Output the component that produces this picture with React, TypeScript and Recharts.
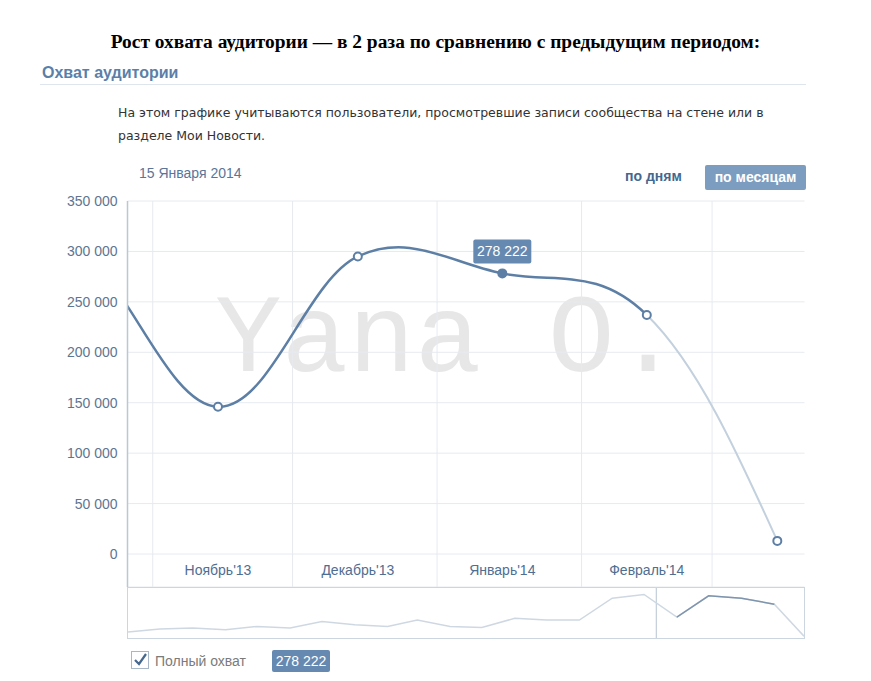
import React from "react";
import { LineChart, Line, XAxis, YAxis, CartesianGrid, ReferenceLine } from "recharts";

// monthly audience reach (one point per month, plotted on the 15th)
const months = [
  "2012-06", "2012-07", "2012-08", "2012-09", "2012-10", "2012-11", "2012-12",
  "2013-01", "2013-02", "2013-03", "2013-04", "2013-05", "2013-06", "2013-07",
  "2013-08", "2013-09", "2013-10", "2013-11", "2013-12", "2014-01", "2014-02",
  "2014-03",
];
const reach = [
  42000, 63000, 70000, 58000, 81000, 70000, 115000,
  92000, 81000, 126000, 81000, 74000, 138000, 126000,
  126000, 279000, 305000, 146000, 295000, 278222, 237000,
  13000,
];

const tickMonths = ["2013-11", "2013-12", "2014-01", "2014-02"];
const tickLabels = ["Ноябрь'13", "Декабрь'13", "Январь'14", "Февраль'14"];
const gridMonths = ["2013-11", "2013-12", "2014-01", "2014-02", "2014-03"];
const yTicks = [0, 50000, 100000, 150000, 200000, 250000, 300000, 350000];
const activeMonth = "2014-01";

// visible window of the main chart
const viewStart = Date.parse("2013-10-26T14:00:00Z");
const viewEnd = Date.parse("2014-03-20T20:00:00Z");

const BLUE = "#5d7fa5";
const LIGHT = "#c3d0de";
const GRID = "#e6eaef";
const AXIS = "#bac7d4";
const LABEL = "#4f6e92";
const BOX = "#6589b1";
const TENSION = 1.1;

const mid = (m: string) => Date.parse(`${m}-15T00:00:00Z`);
const start = (m: string) => Date.parse(`${m}-01T00:00:00Z`);
const fmt = (v: number) => String(v).replace(/\B(?=(\d{3})+(?!\d))/g, " ");

const allData = months.map((m, i) => ({
  month: m,
  t: mid(m),
  value: reach[i],
  selected: tickMonths.includes(m) ? reach[i] : null,
}));
const mainData = allData.slice(-7);

// cardinal spline; "head" strokes every segment but the last, "tail" only the last one
function spline(part: "head" | "tail") {
  return (context: any) => {
    let pts: number[][] = [];
    return {
      areaStart() {},
      areaEnd() {},
      lineStart() {
        pts = [];
      },
      point(x: number, y: number) {
        pts.push([+x, +y]);
      },
      lineEnd() {
        const n = pts.length;
        if (n < 2) return;
        const m = pts.map((p, i) =>
          i > 0 && i < n - 1
            ? [
                (TENSION * (pts[i + 1][0] - pts[i - 1][0])) / 2,
                (TENSION * (pts[i + 1][1] - pts[i - 1][1])) / 2,
              ]
            : [0, 0]
        );
        if (n === 2) {
          m[0] = [pts[1][0] - pts[0][0], pts[1][1] - pts[0][1]];
          m[1] = m[0];
        } else {
          m[0] = [
            (3 * (pts[1][0] - pts[0][0]) - m[1][0]) / 2,
            (3 * (pts[1][1] - pts[0][1]) - m[1][1]) / 2,
          ];
          m[n - 1] = [
            (3 * (pts[n - 1][0] - pts[n - 2][0]) - m[n - 2][0]) / 2,
            (3 * (pts[n - 1][1] - pts[n - 2][1]) - m[n - 2][1]) / 2,
          ];
        }
        const from = part === "head" ? 0 : n - 2;
        const to = part === "head" ? n - 2 : n - 1;
        context.moveTo(pts[from][0], pts[from][1]);
        for (let i = from; i < to; i++) {
          context.bezierCurveTo(
            pts[i][0] + m[i][0] / 3,
            pts[i][1] + m[i][1] / 3,
            pts[i + 1][0] - m[i + 1][0] / 3,
            pts[i + 1][1] - m[i + 1][1] / 3,
            pts[i + 1][0],
            pts[i + 1][1]
          );
        }
      },
    };
  };
}

const renderDot = (props: any) => {
  const { cx, cy, payload, index } = props;
  if (payload.t < viewStart) return <g key={`d${index}`} />;
  if (payload.month === activeMonth) {
    return (
      <g key={`d${index}`}>
        <circle cx={cx} cy={cy} r={5} fill={BLUE} />
        <rect x={cx - 29} y={cy - 34} width={58} height={24} rx={2} fill={BOX} />
        <text
          x={cx}
          y={cy - 17}
          textAnchor="middle"
          fill="#fff"
          fontSize={14}
          fontFamily="Liberation Sans"
        >
          {fmt(payload.value)}
        </text>
      </g>
    );
  }
  return <circle key={`d${index}`} cx={cx} cy={cy} r={4} fill="#fff" stroke={BLUE} strokeWidth={2} />;
};

const renderXTick = (props: any) => {
  const { x, y, payload } = props;
  const label = tickLabels[tickMonths.findIndex((m) => mid(m) === payload.value)];
  return (
    <text x={x} y={y - 12} textAnchor="middle" fill={LABEL} fontSize={14} fontFamily="Liberation Sans">
      {label}
    </text>
  );
};

const abs = (s: React.CSSProperties): React.CSSProperties => ({ position: "absolute", whiteSpace: "nowrap", ...s });

export default function App() {
  return (
    <div style={{ position: "absolute", left: 0, top: 0, width: 871, height: 681, background: "#fff", overflow: "hidden" }}>
      <div
        style={abs({
          left: 0, top: 32, width: 871, textAlign: "center", fontFamily: "Liberation Serif",
          fontWeight: "bold", fontSize: 19.4, lineHeight: "20px", color: "#000",
        })}
      >
        Рост охвата аудитории — в 2 раза по сравнению с предыдущим периодом:
      </div>
      <div
        style={abs({
          left: 42, top: 64, fontFamily: "Liberation Sans", fontWeight: "bold", fontSize: 16,
          lineHeight: "17px", color: "#5a7fa8",
        })}
      >
        Охват аудитории
      </div>
      <div style={abs({ left: 40, top: 84, width: 766, height: 1, background: "#dfe5ec" })} />
      <div
        style={abs({
          left: 118, top: 101, fontFamily: "DejaVu Sans", fontSize: 12.5, lineHeight: "23px", color: "#333",
        })}
      >
        На этом графике учитываются пользователи, просмотревшие записи сообщества на стене или в
        <br />
        разделе Мои Новости.
      </div>
      <div style={abs({ left: 139, top: 165, fontFamily: "Liberation Sans", fontSize: 14, lineHeight: "16px", color: "#5b7599" })}>
        15 Января 2014
      </div>
      <div
        style={abs({
          left: 625, top: 168, fontFamily: "Liberation Sans", fontWeight: "bold", fontSize: 14,
          lineHeight: "16px", color: "#45688e",
        })}
      >
        по дням
      </div>
      <div
        style={abs({
          left: 705, top: 165, width: 101, height: 25, lineHeight: "25px", textAlign: "center", borderRadius: 2,
          background: "#7c9cc0", color: "#fff", fontFamily: "Liberation Sans", fontWeight: "bold", fontSize: 14,
        })}
      >
        по месяцам
      </div>

      {/* watermark behind the chart */}
      <div
        style={abs({
          left: 215, top: 286, fontFamily: "Liberation Mono", fontSize: 111, lineHeight: "111px", color: "#e7e7e7",
        })}
      >
        Yana O.
      </div>

      <div style={abs({ left: 0, top: 0 })}>
        <LineChart width={871} height={600} data={mainData} margin={{ top: 201, right: 66.5, bottom: 0, left: 0 }}>
          <CartesianGrid vertical={false} stroke={GRID} />
          {gridMonths.map((m) => (
            <ReferenceLine key={m} x={start(m)} stroke={GRID} />
          ))}
          <XAxis
            dataKey="t"
            type="number"
            domain={[viewStart, viewEnd]}
            allowDataOverflow
            ticks={tickMonths.map(mid)}
            tick={renderXTick}
            axisLine={false}
            tickLine={false}
            tickSize={0}
            tickMargin={0}
            height={13}
            interval={0}
          />
          <YAxis
            type="number"
            domain={[-32700, 350000]}
            allowDataOverflow
            ticks={yTicks}
            tickFormatter={fmt}
            width={127.5}
            axisLine={{ stroke: AXIS, strokeWidth: 1.5 }}
            tickLine={false}
            tickSize={0}
            tickMargin={10}
            tick={{ fill: "#5e7591", fontSize: 14, fontFamily: "Liberation Sans" }}
            interval={0}
          />
          <Line
            dataKey="value"
            type={spline("tail") as any}
            stroke={LIGHT}
            strokeWidth={2}
            dot={false}
            activeDot={false}
            isAnimationActive={false}
          />
          <Line
            dataKey="value"
            type={spline("head") as any}
            stroke={BLUE}
            strokeWidth={2.5}
            dot={renderDot}
            activeDot={false}
            isAnimationActive={false}
          />
        </LineChart>
      </div>

      {/* navigator */}
      <div style={abs({ left: 127, top: 587, width: 678, height: 52, boxSizing: "border-box", border: "1px solid #ccd6e0" })} />
      <div style={abs({ left: 128, top: 588 })}>
        <LineChart width={676} height={50} data={allData} margin={{ top: 0, right: 0, bottom: 0, left: 0 }}>
          <XAxis dataKey="t" type="number" domain={[allData[0].t, allData[allData.length - 1].t]} hide />
          <YAxis type="number" domain={[0, 350000]} hide />
          <ReferenceLine x={viewStart} stroke="#b7c4d2" />
          <Line dataKey="value" type="linear" stroke="#cfd8e2" strokeWidth={1.5} dot={false} activeDot={false} isAnimationActive={false} />
          <Line dataKey="selected" type="linear" stroke="#7f95ae" strokeWidth={1.5} dot={false} activeDot={false} isAnimationActive={false} />
        </LineChart>
      </div>

      {/* legend */}
      <svg style={abs({ left: 131, top: 651 })} width={19} height={19}>
        <rect x={0.5} y={0.5} width={17} height={17} fill="#fff" stroke="#a9b8c8" />
        <path d="M4 9 L8 13 L15 3" fill="none" stroke="#45688e" strokeWidth={2.2} />
      </svg>
      <div style={abs({ left: 155, top: 653, fontFamily: "Liberation Sans", fontSize: 14, lineHeight: "16px", color: "#7b7b7b" })}>
        Полный охват
      </div>
      <div
        style={abs({
          left: 272, top: 650, width: 58, height: 22, lineHeight: "22px", textAlign: "center", borderRadius: 2,
          background: BOX, color: "#fff", fontFamily: "Liberation Sans", fontSize: 14,
        })}
      >
        {fmt(reach[months.indexOf(activeMonth)])}
      </div>
    </div>
  );
}
